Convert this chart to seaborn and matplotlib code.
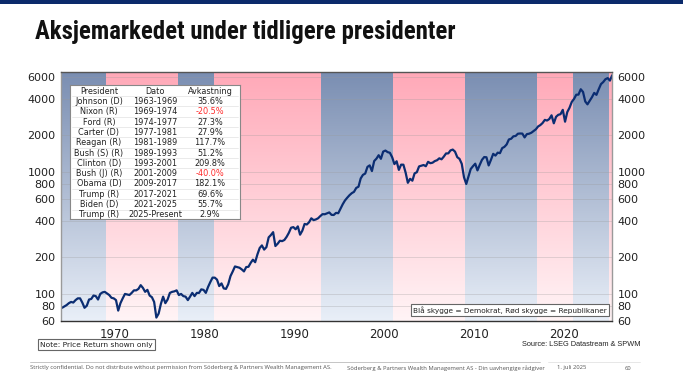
import numpy as np
import pandas as pd
import matplotlib
matplotlib.use("Agg")
import matplotlib.pyplot as plt
import seaborn as sns
from matplotlib.colors import LinearSegmentedColormap
from matplotlib import font_manager

sns.set_theme(style="white")
plt.rcParams['font.family'] = ['DejaVu Sans']

# ---------------- data ----------------
# S&P 500 price index, quarterly, 1964Q1 .. 2025Q2
spx = [
    77, 79, 81, 84,
    86, 85, 89, 92,
    92, 85, 77, 80,
    90, 91, 97, 96,
    90, 100, 103, 104,
    101, 98, 93, 92,
    89, 73, 84, 92,
    100, 99, 98, 102,
    107, 107, 110, 118,
    112, 104, 108, 97,
    94, 86, 64, 69,
    83, 95, 84, 90,
    102, 104, 105, 107,
    98, 100, 96, 95,
    89, 95, 102, 96,
    102, 102, 109, 108,
    102, 114, 125, 136,
    136, 131, 116, 122,
    111, 110, 120, 140,
    153, 168, 166, 164,
    159, 153, 166, 167,
    180, 191, 182, 211,
    238, 250, 231, 242,
    291, 304, 321, 247,
    258, 273, 271, 277,
    294, 317, 349, 353,
    339, 358, 306, 330,
    375, 371, 387, 417,
    403, 408, 417, 435,
    451, 450, 458, 466,
    445, 444, 462, 459,
    500, 544, 584, 615,
    645, 670, 687, 740,
    757, 885, 947, 970,
    1101, 1133, 1017, 1229,
    1286, 1372, 1282, 1469,
    1498, 1454, 1436, 1320,
    1160, 1224, 1040, 1148,
    1147, 989, 815, 879,
    848, 974, 995, 1111,
    1126, 1140, 1114, 1211,
    1180, 1191, 1228, 1248,
    1294, 1270, 1335, 1418,
    1420, 1503, 1526, 1468,
    1322, 1280, 1166, 903,
    797, 919, 1057, 1115,
    1169, 1030, 1141, 1257,
    1325, 1320, 1131, 1257,
    1408, 1362, 1440, 1426,
    1569, 1606, 1681, 1848,
    1872, 1960, 1972, 2058,
    2067, 2063, 1920, 2043,
    2059, 2098, 2168, 2238,
    2362, 2423, 2519, 2673,
    2640, 2718, 2914, 2506,
    2834, 2941, 2976, 3230,
    2584, 3100, 3363, 3756,
    3972, 4297, 4307, 4766,
    4530, 3785, 3585, 3839,
    4109, 4450, 4288, 4769,
    5254, 5460, 5762, 5881,
    5611, 6205,
]
dates = pd.date_range("1964-01-01", periods=len(spx), freq="QS") + pd.Timedelta(days=45)
years_frac = dates.year + (dates.dayofyear - 1) / 365.25

# presidential terms (start, end, party)
term_start = [1963, 1969, 1977, 1981, 1993, 2001, 2009, 2017, 2021, 2025]
term_end   = [1969, 1977, 1981, 1993, 2001, 2009, 2017, 2021, 2025, 2026]
term_party = ["D", "R", "D", "R", "D", "R", "D", "R", "D", "R"]

table_pres = ["Johnson (D)", "Nixon (R)", "Ford (R)", "Carter (D)", "Reagan (R)",
              "Bush (S) (R)", "Clinton (D)", "Bush (J) (R)", "Obama (D)", "Trump (R)",
              "Biden (D)", "Trump (R)"]
table_dato = ["1963-1969", "1969-1974", "1974-1977", "1977-1981", "1981-1989",
              "1989-1993", "1993-2001", "2001-2009", "2009-2017", "2017-2021",
              "2021-2025", "2025-Present"]
table_ret = ["35.6%", "-20.5%", "27.3%", "27.9%", "117.7%", "51.2%", "209.8%",
             "-40.0%", "182.1%", "69.6%", "55.7%", "2.9%"]

yticks = [60, 80, 100, 200, 400, 600, 800, 1000, 2000, 4000, 6000]
xticks = [1970, 1980, 1990, 2000, 2010, 2020]

# ---------------- figure ----------------
W, H = 683, 384
fig = plt.figure(figsize=(W / 100, H / 100), dpi=100)
fig.patch.set_facecolor("white")

def fx(px):
    return px / W

def fy(py):
    return 1 - py / H

# choose a narrow bold family for the title if available
title_family = "Roboto"
for cand in ["Liberation Sans Narrow", "Roboto Condensed", "Open Sans Condensed",
             "DejaVu Sans Condensed", "Noto Sans Condensed"]:
    try:
        font_manager.findfont(font_manager.FontProperties(family=cand),
                              fallback_to_default=False)
        title_family = cand
        break
    except Exception:
        pass

# top bar
fig.add_artist(plt.Rectangle((0, fy(4)), 1, 4 / H, transform=fig.transFigure,
                             color="#0b2a6b", lw=0))
title = fig.text(fx(35), fy(32), "Aksjemarkedet under tidligere presidenter",
                 fontsize=19, fontweight="bold", family=[title_family],
                 color="#111111", va="center", ha="left")
# fit title width to reference (~420 px)
fig.canvas.draw()
wpx = title.get_window_extent().width
title.set_fontsize(19 * min(1.3, 420 / wpx))

left, right, top, bottom = 61, 612, 72, 321
pos = [fx(left), fy(bottom), fx(right - left), (bottom - top) / H]
xmin, xmax = 1964.0, 2025.35
ymin, ymax = 60, 6600

# background axes with gradient shading
bg = fig.add_axes(pos, zorder=0)
bg.set_xlim(xmin, xmax)
bg.set_ylim(0, 1)
bg.axis("off")
blue_cmap = LinearSegmentedColormap.from_list("b", ["#e9eff8", "#7a8eb2"])
pink_cmap = LinearSegmentedColormap.from_list("p", ["#fff4f6", "#ffa9b8"])
grad = np.linspace(0, 1, 256).reshape(-1, 1)
for s, e, p in zip(term_start, term_end, term_party):
    s2, e2 = max(s, xmin), min(e, xmax)
    if e2 <= s2:
        continue
    bg.imshow(grad, extent=[s2, e2, 0, 1], origin="lower", aspect="auto",
              cmap=blue_cmap if p == "D" else pink_cmap, interpolation="bilinear")
bg.set_xlim(xmin, xmax)
bg.set_ylim(0, 1)

ax = fig.add_axes(pos, zorder=1)
ax.patch.set_alpha(0)
df = pd.DataFrame({"year": years_frac, "spx": spx})
sns.lineplot(data=df, x="year", y="spx", ax=ax, color="#0b2d72", lw=1.6)
ax.set_yscale("log")
ax.set_xlim(xmin, xmax)
ax.set_ylim(ymin, ymax)
ax.set_yticks(yticks)
ax.set_yticklabels([str(v) for v in yticks])
ax.yaxis.set_minor_locator(matplotlib.ticker.NullLocator())
ax.set_xticks(xticks)
ax.set_xlabel("")
ax.set_ylabel("")
ax.tick_params(axis="y", which="both", length=0, labelsize=8, colors="#222222",
               labelleft=True, labelright=True, pad=4)
ax.tick_params(axis="x", length=4, width=1, color="#333333", direction="out",
               labelsize=8.5, colors="#222222", pad=1)
for v in yticks:
    ax.axhline(v, color="#999999", lw=0.6, alpha=0.35, zorder=0.5)
for side in ["left", "right", "top", "bottom"]:
    ax.spines[side].set_visible(True)
    ax.spines[side].set_linewidth(1.0)
ax.spines["left"].set_color("#9a9a9a")
ax.spines["right"].set_color("#9a9a9a")
ax.spines["top"].set_color("#555555")
ax.spines["bottom"].set_color("#333333")

# table box
tx0, tx1, ty0, ty1 = 70, 240, 85, 219
tab = fig.add_axes([fx(tx0), fy(ty1), fx(tx1 - tx0), (ty1 - ty0) / H], zorder=3)
tab.set_xlim(tx0, tx1)
tab.set_ylim(ty1, ty0)
tab.set_facecolor("white")
for sp in tab.spines.values():
    sp.set_color("#888888")
    sp.set_linewidth(0.8)
tab.set_xticks([])
tab.set_yticks([])
nrows = len(table_pres) + 1
rh = (ty1 - ty0) / nrows
colx = [99, 155, 210]
headers = ["President", "Dato", "Avkastning"]
tfs = 5.9
for j, h in enumerate(headers):
    tab.text(colx[j], ty0 + rh * 0.6, h, ha="center", va="center", fontsize=tfs,
             color="#222222")
for i in range(len(table_pres)):
    yc = ty0 + rh * (i + 1.6)
    tab.plot([tx0 + 2, tx1 - 2], [ty0 + rh * (i + 1.08)] * 2, color="#e2e2e2", lw=0.5)
    tab.text(colx[0], yc, table_pres[i], ha="center", va="center", fontsize=tfs, color="#222222")
    tab.text(colx[1], yc, table_dato[i], ha="center", va="center", fontsize=tfs, color="#222222")
    col = "#ff2a2a" if table_ret[i].startswith("-") else "#222222"
    tab.text(colx[2], yc, table_ret[i], ha="center", va="center", fontsize=tfs, color=col)

# legend box
fig.text(fx(510), fy(310), "Blå skygge = Demokrat, Rød skygge = Republikaner",
         ha="center", va="center", fontsize=5.3, color="#222222", zorder=5,
         bbox=dict(boxstyle="square,pad=0.35", fc="white", ec="#666666", lw=0.8))

# note
fig.text(fx(40), fy(344.5), "Note: Price Return shown only", ha="left", va="center",
         fontsize=5.4, color="#222222",
         bbox=dict(boxstyle="square,pad=0.3", fc="white", ec="#666666", lw=0.8))
fig.text(fx(640), fy(344), "Source: LSEG Datastream & SPWM", ha="right", va="center",
         fontsize=5.3, color="#222222", family=["Liberation Sans"])

# footer
fig.add_artist(plt.Line2D([fx(30), fx(540)], [fy(362), fy(362)], color="#bbbbbb", lw=0.6))
fig.add_artist(plt.Line2D([fx(548), fx(640)], [fy(362), fy(362)], color="#dddddd", lw=0.5))
fig.text(fx(30), fy(368), "Strictly confidential. Do not distribute without permission from Söderberg & Partners Wealth Management AS.",
         fontsize=4.2, color="#555555", ha="left", va="center", family=["Open Sans"])
fig.text(fx(347), fy(368), "Söderberg & Partners Wealth Management AS - Din uavhengige rådgiver",
         fontsize=4.2, color="#555555", ha="left", va="center", family=["Open Sans"])
fig.text(fx(557), fy(368), "1. juli 2025", fontsize=4.2, color="#555555", ha="left",
         va="center", family=["Open Sans"])
fig.text(fx(625), fy(368), "60", fontsize=4.2, color="#555555", ha="left",
         va="center", family=["Open Sans"])

fig.savefig("out.png", dpi=100)
